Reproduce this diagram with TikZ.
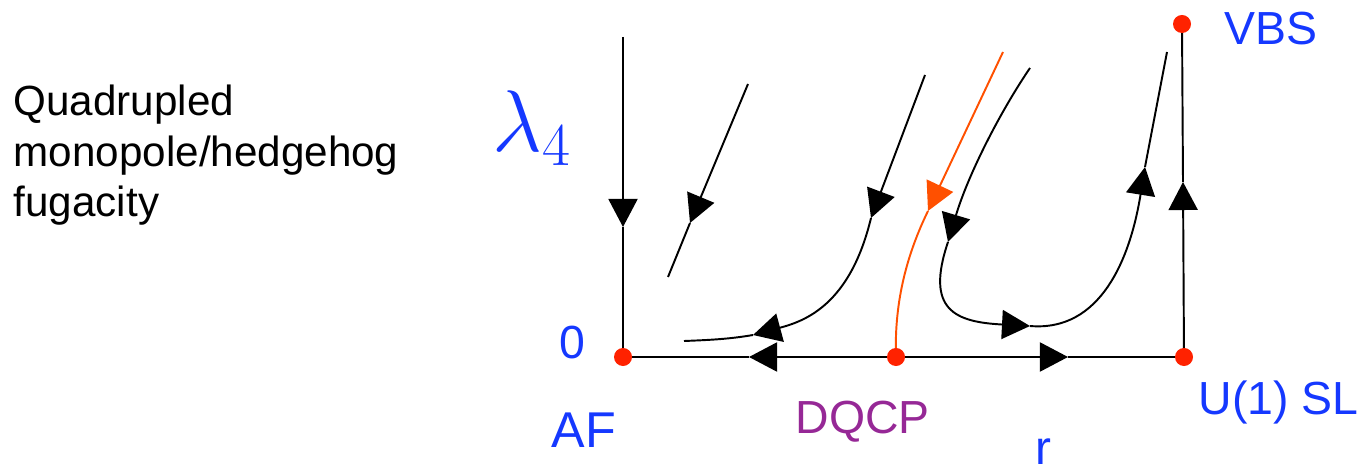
\documentclass[tikz,border=0pt]{standalone}
\usepackage[no-math]{fontspec}
\setmainfont{Liberation Sans}
\usepackage{tikz}
\usetikzlibrary{arrows.meta}
\definecolor{labelblue}{HTML}{1538FF}
\definecolor{dqcppurple}{HTML}{962896}
\definecolor{fixedred}{HTML}{FF2200}
\definecolor{critorange}{HTML}{FF5000}
\tikzset{
  flow/.style={line width=0.55pt,draw=black},
  flowhead/.style={flow,-{Triangle[length=2.8mm,width=2.9mm]}},
  critical/.style={flow,draw=critorange},
  criticalhead/.style={critical,-{Triangle[length=2.8mm,width=2.9mm,fill=critorange]}},
  fixedpt/.style={circle,fill=fixedred,inner sep=0pt,minimum size=1.8mm},
  axislabel/.style={text=labelblue,inner sep=0pt,anchor=base west,font=\fontsize{13.2}{15}\selectfont}
}

\begin{document}
\begin{tikzpicture}[x=0.01cm,y=-0.01cm]
  \useasboundingbox (0,0) rectangle (1366,470);

  \coordinate (af) at (623,357);
  \coordinate (dqcp) at (896,357);
  \coordinate (usl) at (1184,357);
  \coordinate (vbs) at (1182,24);

  \coordinate (axtop) at (623,37);
  \coordinate (downtip) at (623,227);
  \coordinate (lefttip) at (749,357);
  \coordinate (righttip) at (1068,357);
  \coordinate (uptip) at (1183,182);
  \draw[flowhead] (axtop) -- (downtip);
  \draw[flow] (downtip) -- (af);
  \draw[flowhead] (dqcp) -- (lefttip);
  \draw[flow] (lefttip) -- (af);
  \draw[flowhead] (dqcp) -- (righttip);
  \draw[flow] (righttip) -- (usl);
  \draw[flowhead] (usl) -- (uptip);
  \draw[flow] (uptip) -- (vbs);

  \coordinate (fa) at (748,84);
  \coordinate (fatip) at (690,223);
  \coordinate (faend) at (668,277);
  \draw[flowhead] (fa) -- (fatip);
  \draw[flow] (fatip) -- (faend);

  \coordinate (fb) at (925,75);
  \coordinate (fbtip) at (871,218);
  \coordinate (fbtwo) at (753,335);
  \coordinate (fbend) at (684,341);
  \draw[flowhead] (fb) -- (fbtip);
  \draw[flowhead] (fbtip) .. controls (850,305) and (805,321) .. (fbtwo);
  \draw[flow] (fbtwo) .. controls (730,339) and (710,340) .. (fbend);

  \coordinate (oc) at (1003,52);
  \coordinate (octip) at (928,211);
  \draw[criticalhead] (oc) -- (octip);
  \draw[critical] (octip) .. controls (908,252) and (894,300) .. (dqcp);

  \coordinate (fc) at (1030,68);
  \coordinate (fctip) at (948,242);
  \coordinate (fctwo) at (1030,326);
  \coordinate (fcthree) at (1145,167);
  \coordinate (fcend) at (1167,52);
  \draw[flowhead] (fc) .. controls (1000,112) and (968,175) .. (fctip);
  \draw[flowhead] (fctip) .. controls (925,310) and (955,322) .. (fctwo);
  \draw[flowhead] (fctwo) .. controls (1100,332) and (1130,260) .. (fcthree);
  \draw[flow] (fcthree) -- (fcend);

  \node[fixedpt] (afdot) at (af) {};
  \node[fixedpt] (dqcpdot) at (dqcp) {};
  \node[fixedpt] (usldot) at (usl) {};
  \node[fixedpt] (vbsdot) at (vbs) {};

  \node[inner sep=0pt,anchor=base west,align=left,font=\fontsize{12}{14.5}\selectfont] (fugacity) at (13,217) {Quadrupled\\monopole/hedgehog\\fugacity};
  \node[axislabel,font=\fontsize{23}{23}\selectfont] (lambda) at (492,152) {$\lambda_4$};
  \node[axislabel,anchor=base east] (zero) at (586,358) {0};
  \node[axislabel,font=\fontsize{14.3}{16}\selectfont] (aflabel) at (551,447) {AF};
  \node[axislabel,text=dqcppurple] (dqcplabel) at (795,433) {DQCP};
  \node[axislabel,font=\fontsize{13.6}{15}\selectfont] (rlabel) at (1035,465) {r};
  \node[axislabel] (usllabel) at (1198,415) {U(1) SL};
  \node[axislabel] (vbslabel) at (1224,45) {VBS};
\end{tikzpicture}
\end{document}
